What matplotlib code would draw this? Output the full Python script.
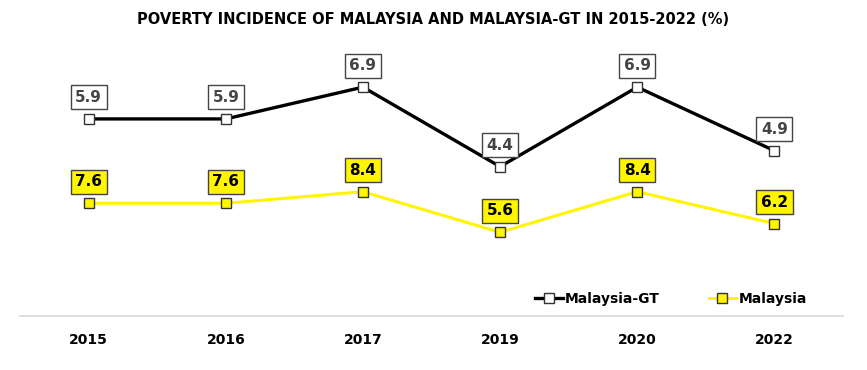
import matplotlib.pyplot as plt

years = ['2015', '2016', '2017', '2019', '2020', '2022']
malaysia_gt = [5.9, 5.9, 6.9, 4.4, 6.9, 4.9]
malaysia = [7.6, 7.6, 8.4, 5.6, 8.4, 6.2]

plt.rcParams['font.family'] = 'DejaVu Sans'

fig = plt.figure(figsize=(8.67, 3.70), dpi=100)
ax = fig.add_axes([20/867, 54/370, 823/867, 276/370])
ax2 = ax.twinx()

x = list(range(len(years)))
yellow = '#FFF500'
edge = '#333333'

l1, = ax.plot(x, malaysia_gt, color='black', lw=2.4, marker='s', ms=7.5,
              mfc='white', mec=edge, mew=1, label='Malaysia-GT', zorder=3)
l2, = ax2.plot(x, malaysia, color=yellow, lw=2.2, marker='s', ms=7.5,
               mfc=yellow, mec=edge, mew=1, label='Malaysia', zorder=3)

# value boxes above each marker
for i, v in enumerate(malaysia_gt):
    ax.annotate(f'{v}', (i, v), xytext=(0, 15.5), textcoords='offset points',
                ha='center', va='center', fontsize=11, fontweight='bold', color='#444444',
                zorder=5,
                bbox=dict(boxstyle='square,pad=0.3', fc='white', ec='#444444', lw=1))
for i, v in enumerate(malaysia):
    ax2.annotate(f'{v}', (i, v), xytext=(0, 15.5), textcoords='offset points',
                 ha='center', va='center', fontsize=11, fontweight='bold', color='black',
                 zorder=5,
                 bbox=dict(boxstyle='square,pad=0.3', fc=yellow, ec='#444444', lw=1))

ax.set_xlim(-0.5, 5.5)
ax.set_ylim(-0.297, 8.382)
ax2.set_ylim(-0.172, 18.86)

for a in (ax, ax2):
    for s in ['top', 'right', 'left']:
        a.spines[s].set_visible(False)
    a.set_yticks([])
ax2.spines['bottom'].set_visible(False)
ax.spines['bottom'].set_color('#d9d9d9')
ax.spines['bottom'].set_linewidth(1.2)

ax.set_xticks(x)
ax.set_xticklabels(years, fontsize=10, fontweight='bold')
ax.tick_params(axis='x', length=0, pad=12)

fig.legend(handles=[l1, l2], loc='center', bbox_to_anchor=(671/867, 1 - 299/370),
           ncol=2, frameon=False, handlelength=2, handletextpad=0.15,
           columnspacing=3.5, prop={'weight': 'bold', 'size': 10})

fig.text(433/867, 1 - 20/370, 'POVERTY INCIDENCE OF MALAYSIA AND MALAYSIA-GT IN 2015-2022 (%)',
         ha='center', va='center', fontsize=10.5, fontweight='bold')

fig.savefig('out.png', dpi=100)
